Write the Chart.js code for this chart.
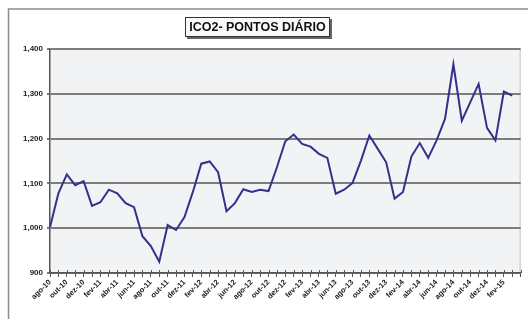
<!DOCTYPE html>
<html>
<head>
<meta charset="utf-8">
<script src="https://cdn.jsdelivr.net/npm/chart.js@4"></script>
<style>
html,body{margin:0;padding:0;background:#fff;}
#wrap{width:528px;height:319px;position:relative;}
</style>
</head>
<body>
<div id="wrap"><canvas id="c" width="528" height="319"></canvas></div>
<script>
const TITLE = "ICO2- PONTOS DIÁRIO";
const months = [
  "ago-10","set-10","out-10","nov-10","dez-10",
  "jan-11","fev-11","mar-11","abr-11","mai-11","jun-11","jul-11","ago-11","set-11","out-11","nov-11","dez-11",
  "jan-12","fev-12","mar-12","abr-12","mai-12","jun-12","jul-12","ago-12","set-12","out-12","nov-12","dez-12",
  "jan-13","fev-13","mar-13","abr-13","mai-13","jun-13","jul-13","ago-13","set-13","out-13","nov-13","dez-13",
  "jan-14","fev-14","mar-14","abr-14","mai-14","jun-14","jul-14","ago-14","set-14","out-14","nov-14","dez-14",
  "jan-15","fev-15","mar-15",""
];
const pontos = [
  1002,1078,1120,1096,1105,
  1050,1058,1086,1078,1056,1047,982,960,925,1007,996,1025,
  1081,1144,1149,1125,1038,1056,1087,1081,1086,1083,1136,1194,
  1209,1188,1182,1166,1157,1077,1086,1101,1151,1207,1177,1147,
  1066,1081,1160,1190,1157,1196,1244,1366,1240,1281,1322,1224,
  1196,1305,1296,null
];
const yTicks = [900,1000,1100,1200,1300,1400];

const decor = {
  id:'decor',
  beforeDraw(chart){
    const ctx = chart.ctx, a = chart.chartArea;
    ctx.save();
    ctx.fillStyle = '#fff';
    ctx.fillRect(0,0,chart.width,chart.height);
    ctx.strokeStyle = '#8c8c8c';
    ctx.lineWidth = 1.5;
    ctx.beginPath();
    ctx.moveTo(8.5, chart.height);
    ctx.lineTo(8.5, 9);
    ctx.lineTo(chart.width, 9);
    ctx.stroke();
    ctx.fillStyle = '#f2f3f5';
    ctx.fillRect(a.left, a.top, a.right - a.left, a.bottom - a.top);
    ctx.strokeStyle = '#c4c4c4';
    ctx.lineWidth = 1;
    ctx.beginPath();
    ctx.moveTo(a.left, a.top + 0.5);
    ctx.lineTo(a.right - 0.5, a.top + 0.5);
    ctx.lineTo(a.right - 0.5, a.bottom);
    ctx.stroke();
    ctx.restore();
  },
  afterDraw(chart){
    const ctx = chart.ctx;
    const xs = chart.scales.x, ys = chart.scales.y;
    ctx.save();
    ctx.strokeStyle = '#555';
    ctx.lineWidth = 1;
    const yb = ys.getPixelForValue(900);
    for (let i = 0; i < months.length; i++) {
      const px = Math.round(xs.getPixelForTick(i)) + 0.5;
      ctx.beginPath();
      ctx.moveTo(px, yb - 3);
      ctx.lineTo(px, yb);
      ctx.stroke();
    }
    const bx = 185, by = 17, bw = 145, bh = 20;
    ctx.fillStyle = '#666';
    ctx.fillRect(bx + 2, by + 2, bw, bh);
    ctx.fillStyle = '#fafafa';
    ctx.fillRect(bx, by, bw, bh);
    ctx.strokeStyle = '#333';
    ctx.lineWidth = 1;
    ctx.strokeRect(bx + 0.5, by + 0.5, bw - 1, bh - 1);
    ctx.fillStyle = '#111';
    ctx.font = 'bold 12.5px "Liberation Sans", Arial, sans-serif';
    ctx.textAlign = 'center';
    ctx.textBaseline = 'middle';
    ctx.fillText(TITLE, bx + bw / 2, by + bh / 2 + 1);
    ctx.restore();
  }
};

new Chart(document.getElementById('c'), {
  type: 'line',
  data: {
    labels: months,
    datasets: [{
      data: pontos,
      borderColor: '#35318a',
      borderWidth: 2,
      pointRadius: 0,
      tension: 0,
      fill: false
    }]
  },
  options: {
    responsive: false,
    animation: false,
    devicePixelRatio: 1,
    layout: { padding: { top: 49, right: 2, left: 0, bottom: 0 } },
    plugins: { legend: { display: false }, title: { display: false }, tooltip: { enabled: false } },
    scales: {
      x: {
        offset: false,
        afterFit(s){ s.height = 46; },
        grid: { display: true, drawOnChartArea: false, drawTicks: true, tickLength: 4, color: '#555', lineWidth: 1 },
        border: { display: true, color: '#555', width: 1.5 },
        ticks: {
          autoSkip: false,
          minRotation: 45,
          maxRotation: 45,
          padding: 1,
          color: '#222',
          font: { family: '"Liberation Sans", Arial, sans-serif', size: 7.5, weight: 'bold' },
          callback(v, i){ return (i % 2 === 0) ? months[i] : ''; }
        }
      },
      y: {
        min: 900,
        max: 1400,
        afterFit(s){ s.width = 50; },
        afterBuildTicks(s){ s.ticks = yTicks.map(v => ({ value: v })); },
        grid: { color: '#7c7c7c', lineWidth: 2, tickLength: 3, drawTicks: true },
        border: { display: true, color: '#555', width: 1.5 },
        ticks: {
          padding: 4,
          color: '#222',
          font: { family: '"Liberation Sans", Arial, sans-serif', size: 8, weight: 'bold' },
          callback(v){ return v.toLocaleString('en-US'); }
        }
      }
    }
  },
  plugins: [decor]
});
</script>
</body>
</html>
